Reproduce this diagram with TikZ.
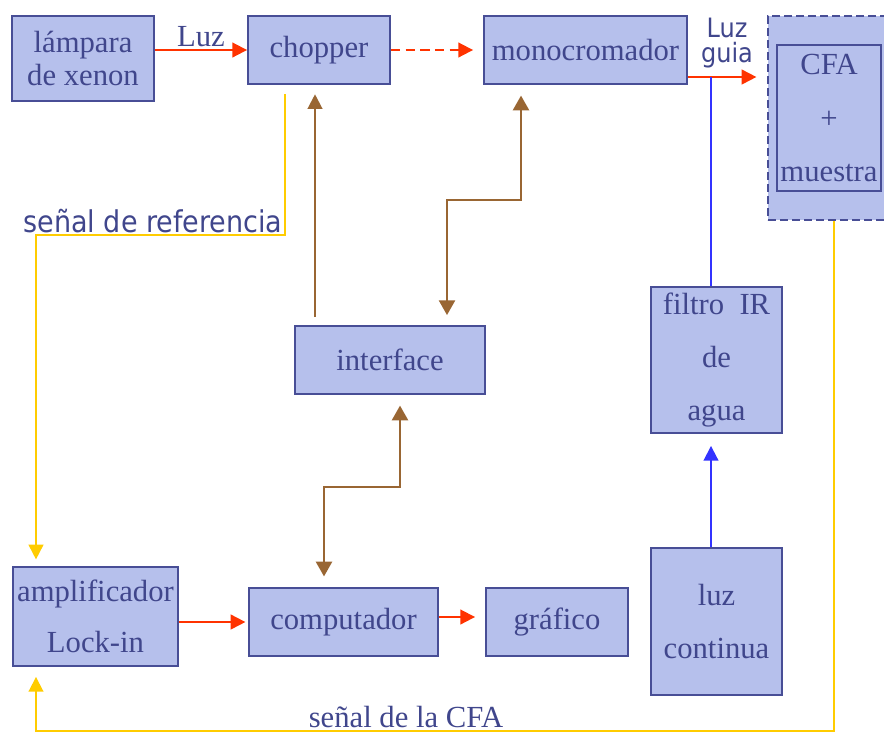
\documentclass[tikz,border=0pt]{standalone}
\usepackage{fontspec}
\setmainfont{Liberation Serif}
\newfontfamily\condsans{DejaVu Sans Condensed}
\usetikzlibrary{arrows.meta,calc}

\definecolor{boxfill}{RGB}{182,192,236}
\definecolor{boxline}{RGB}{72,78,150}
\definecolor{boxtext}{RGB}{64,70,140}
\definecolor{linered}{RGB}{255,51,0}
\definecolor{linebrown}{RGB}{153,102,51}
\definecolor{lineyellow}{RGB}{255,204,0}
\definecolor{lineblue}{RGB}{51,51,255}

\tikzset{
  block/.style={draw=boxline, fill=boxfill, line width=1.4pt, inner sep=0pt,
    text=boxtext, font=\fontsize{23}{25}\selectfont, align=center},
  arr/.style={-{Triangle[length=11pt,width=11pt]}},
  biarr/.style={{Triangle[length=11pt,width=12pt]}-{Triangle[length=11pt,width=12pt]}},
  redline/.style={draw=linered, line width=1.4pt},
  brnline/.style={draw=linebrown, line width=1.6pt},
  yelline/.style={draw=lineyellow, line width=1.4pt},
  bluline/.style={draw=lineblue, line width=1.4pt}
}

\begin{document}
\begin{tikzpicture}[x=0.75pt, y=-0.75pt]
  \useasboundingbox (0,0) rectangle (884,733);

  % top row
  \node[block, minimum width=106.5pt, minimum height=63.75pt] (lamp) at (83,58.5) {lámpara\\de xenon};
  \node[block, minimum width=106.5pt, minimum height=51pt] (chopper) at (319,50) {chopper};
  \node[block, minimum width=152.25pt, minimum height=51pt] (mono) at (585.5,50) {monocromador};

  % sample holder
  \node[block, dash pattern=on 6pt off 3pt, minimum width=90pt, minimum height=153pt] (cfa) at (828,118) {};
  \node[block, line width=1pt, minimum width=78pt, minimum height=109.5pt,
    font=\fontsize{23}{40}\selectfont] (muestra) at (829,118) {CFA\\+\\muestra};

  % middle
  \node[block, minimum width=142.5pt, minimum height=51pt] (interface) at (390,360) {interface};
  \node[block, minimum width=98.25pt, minimum height=109.5pt,
    font=\fontsize{23}{40}\selectfont] (filtro) at (716.5,360) {filtro\ \ IR\\de\\agua};

  % bottom row
  \node[block, minimum width=123.75pt, minimum height=74.25pt,
    font=\fontsize{23}{38}\selectfont] (amp) at (95.5,616.5) {amplificador\\Lock-in};
  \node[block, minimum width=141.75pt, minimum height=51pt] (comp) at (343.5,622) {computador};
  \node[block, minimum width=106.5pt, minimum height=51pt] (graf) at (557,622) {gráfico};
  \node[block, minimum width=98.25pt, minimum height=110.25pt,
    font=\fontsize{23}{40}\selectfont] (luzc) at (716.5,621.5) {luz\\continua};

  % light path
  \draw[redline, arr] (lamp.east |- chopper.west) -- (chopper.west)
    node[midway, above=2pt, inner sep=0pt, text=boxtext, font=\fontsize{23}{25}\selectfont] (luzlbl) {Luz};
  \draw[redline, arr, dash pattern=on 7pt off 4pt, shorten >=7.5pt] (chopper.east) -- (mono.west);
  \coordinate (guia) at (711,77);
  \draw[redline, arr, shorten >=8pt] (mono.east |- guia) -- (cfa.west |- guia);
  \node[font=\condsans\fontsize{20}{19}\selectfont, text=boxtext, align=center, inner sep=0pt] (guialbl) at (727,43) {Luz\\guia};

  % guide light
  \draw[bluline] (guia) -- (guia |- filtro.north);
  \draw[bluline, arr, shorten >=9pt] (guia |- luzc.north) -- (guia |- filtro.south);

  % reference signal
  \coordinate (refL) at (36,235);
  \draw[yelline, arr, shorten >=5pt] ($(chopper.south)+(-34,9)$) |- (refL) -- (refL |- amp.north);
  \node[font=\condsans\fontsize{22.5}{24}\selectfont, text=boxtext, inner sep=0pt] (reflbl) at (153,221) {señal de referencia};

  % CFA signal
  \coordinate (sigR) at (834,731);
  \draw[yelline, arr, shorten >=7.5pt] (cfa.south -| sigR) -- (sigR) -| (refL |- amp.south);
  \node[font=\fontsize{23}{25}\selectfont, text=boxtext, inner sep=0pt] (siglbl) at (406,717) {señal de la CFA};

  % control lines
  \coordinate (bus) at (315,200);
  \draw[brnline, arr, shorten <=6pt, shorten >=7pt] (interface.north -| bus) -- (chopper.south -| bus);
  \coordinate (ma) at (447,200);
  \coordinate (mb) at (521,200);
  \draw[brnline, biarr, shorten <=7.5pt, shorten >=8pt] (interface.north -| ma) -- (ma) -- (mb) -- (mb |- mono.south);
  \coordinate (ca) at (400,487);
  \coordinate (cb) at (324,487);
  \draw[brnline, biarr, shorten <=8pt, shorten >=8pt] (interface.south -| ca) -- (ca) -- (cb) -- (cb |- comp.north);

  % data path
  \draw[redline, arr, shorten >=2pt] (amp.east |- comp.west) -- (comp.west);
  \draw[redline, arr, shorten >=7.5pt] ([yshift=3.75pt]comp.east) -- ([yshift=3.75pt]graf.west);
\end{tikzpicture}
\end{document}
